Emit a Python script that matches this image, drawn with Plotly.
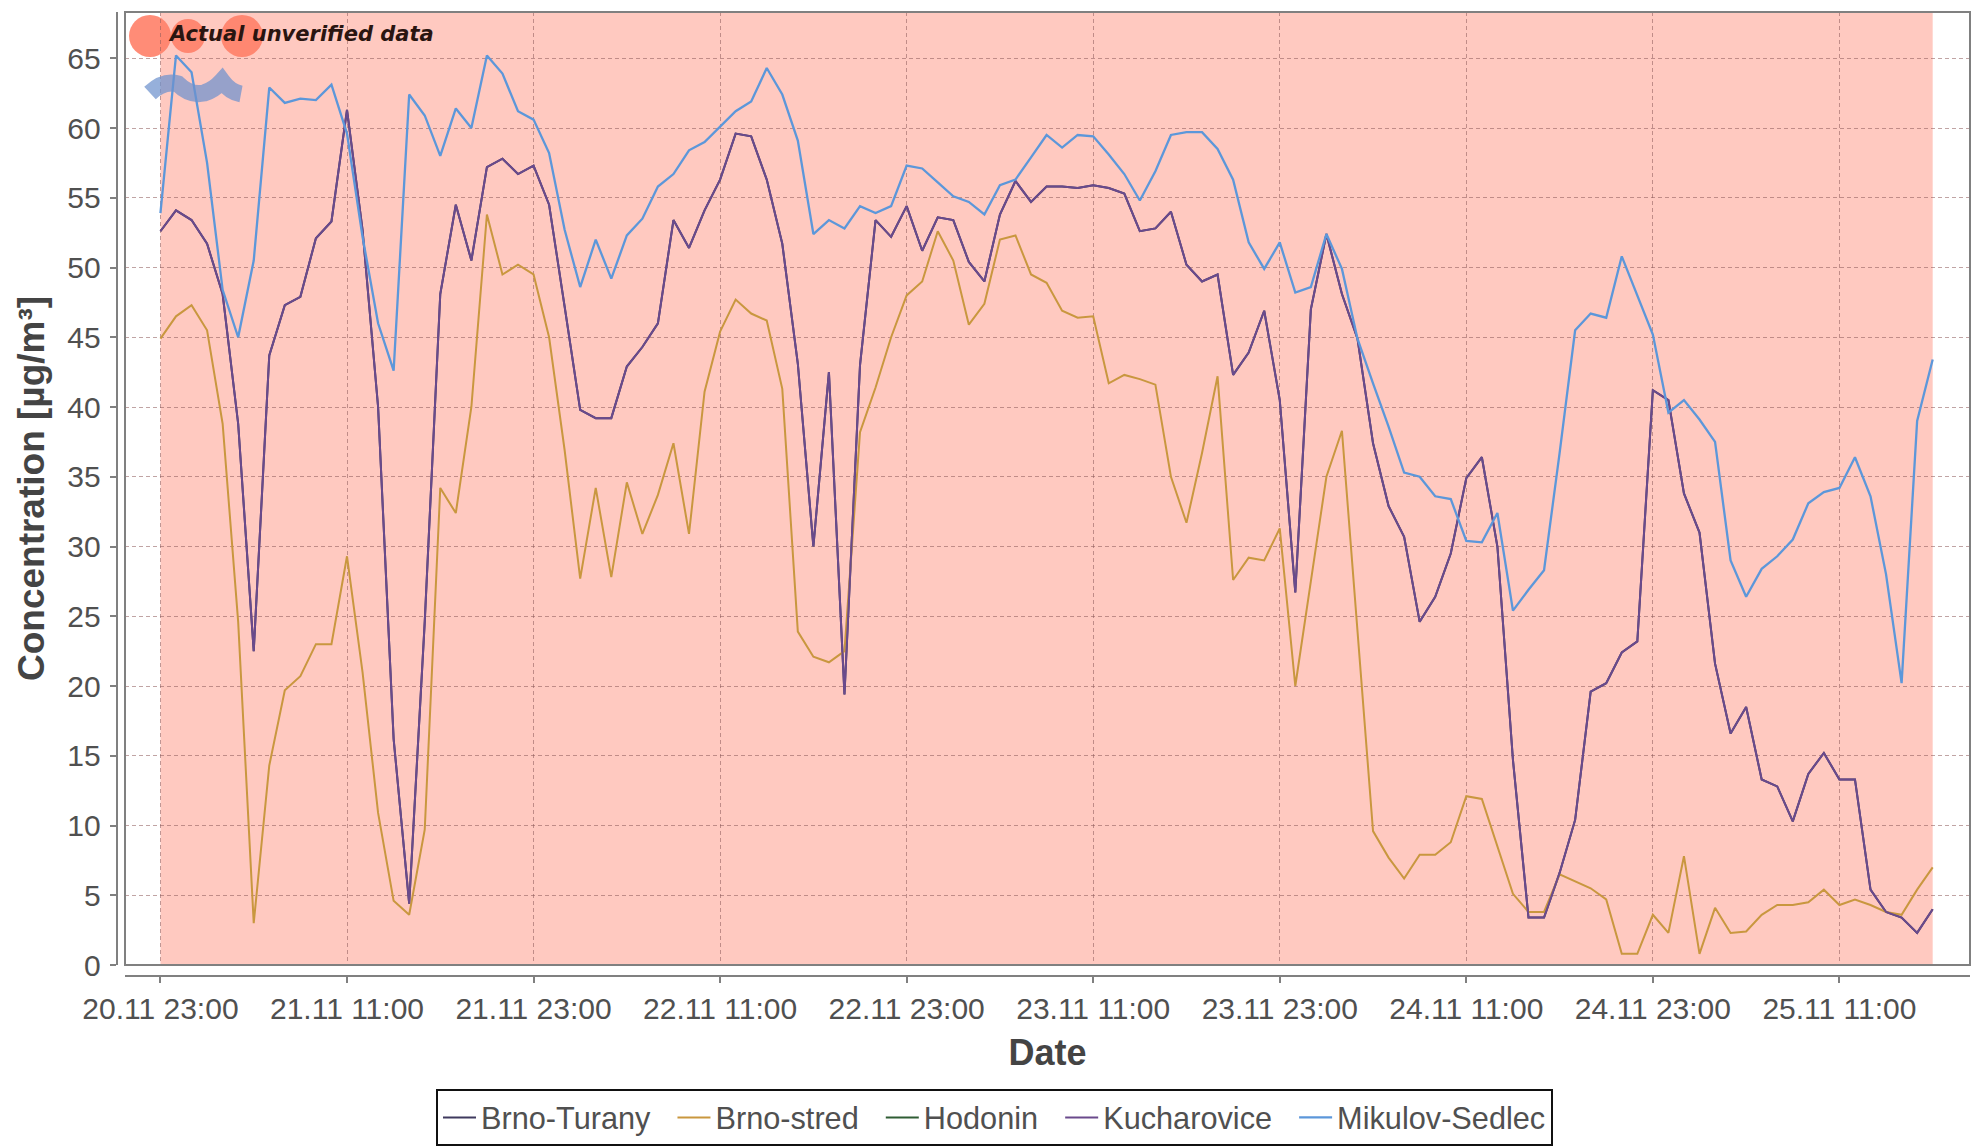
import pandas as pd
import plotly.graph_objects as go

W, H = 1981, 1147

times = pd.date_range("2011-11-20 23:00", periods=115, freq="h")

brno_turany = [52.6,54.1,53.4,51.7,48.1,38.8,22.5,43.7,47.3,47.9,52.1,53.3,61.3,52.7,40.0,16.2,4.4,24.6,48.1,54.5,
               50.5,57.2,57.8,56.7,57.3,54.5,47.2,39.8,39.2,39.2,42.9,44.3,46.0,53.4,51.4,54.1,56.3,59.6,59.4,56.3,
               51.7,43.1,30.0,42.5,19.4,43.0,53.4,52.2,54.4,51.2,53.6,53.4,50.4,49.0,53.8,56.2,54.7,55.8,55.8,55.7,
               55.9,55.7,55.3,52.6,52.8,54.0,50.2,49.0,49.5,42.3,43.9,46.9,40.5,26.7,47.0,52.4,48.1,44.9,37.4,32.9,
               30.7,24.6,26.4,29.5,34.9,36.4,30.0,14.7,3.4,3.4,6.6,10.4,19.6,20.2,22.4,23.2,41.2,40.5,33.8,31.0,
               21.6,16.6,18.5,13.3,12.8,10.3,13.7,15.2,13.3,13.3,5.4,3.8,3.4,2.3,4.0]
brno_stred = [44.9,46.5,47.3,45.5,38.8,24.6,3.0,14.3,19.7,20.7,23.0,23.0,29.3,21.0,10.9,4.6,3.6,9.7,34.2,32.4,
              40.0,53.8,49.5,50.2,49.5,45.0,36.9,27.7,34.2,27.8,34.6,30.9,33.7,37.4,30.9,41.1,45.4,47.7,46.7,46.2,
              41.3,23.9,22.1,21.7,22.5,38.2,41.4,45.0,48.0,49.0,52.6,50.5,45.9,47.4,52.0,52.3,49.5,48.9,46.9,46.4,
              46.5,41.7,42.3,42.0,41.6,35.0,31.7,36.7,42.2,27.6,29.2,29.0,31.3,20.0,27.5,35.0,38.3,24.0,9.6,7.7,
              6.2,7.9,7.9,8.8,12.1,11.9,8.5,5.1,3.8,3.8,6.5,6.0,5.5,4.7,0.8,0.8,3.6,2.3,7.8,0.8,
              4.1,2.3,2.4,3.6,4.3,4.3,4.5,5.4,4.3,4.7,4.3,3.8,3.6,5.4,7.0]
kucharovice = list(brno_turany)
mikulov = [53.9,65.2,64.0,57.5,48.4,45.0,50.5,62.9,61.8,62.1,62.0,63.1,59.6,52.2,46.0,42.6,62.4,60.9,58.0,61.4,
           60.0,65.2,63.9,61.2,60.6,58.2,52.7,48.6,52.0,49.2,52.3,53.5,55.8,56.7,58.4,59.0,60.1,61.2,61.9,64.3,
           62.4,59.1,52.4,53.4,52.8,54.4,53.9,54.4,57.3,57.1,56.1,55.1,54.7,53.8,55.9,56.3,57.9,59.5,58.6,59.5,
           59.4,58.1,56.7,54.8,56.9,59.5,59.7,59.7,58.5,56.3,51.8,49.9,51.8,48.2,48.6,52.4,49.9,44.9,41.7,38.6,
           35.3,35.0,33.6,33.4,30.4,30.3,32.4,25.4,26.9,28.3,36.7,45.5,46.7,46.4,50.8,48.0,45.2,39.6,40.5,39.1,
           37.5,29.0,26.4,28.4,29.3,30.5,33.1,33.9,34.2,36.4,33.6,28.0,20.2,39.0,43.4]

Y_TITLE = "Concentration [µg/m³]"
X_TITLE = "Date"
NOTE = "Actual unverified data"
TICK_COLOR = "#505050"
FONT = "Liberation Sans"
GAP = "\u00a0\u00a0"

def fx(p): return p / W
def fy(p): return 1 - p / H

fig = go.Figure()
series = [
    ("Brno-Turany" + GAP, brno_turany, "#3f3a5e", 2),
    ("Brno-stred" + GAP, brno_stred, "#c9973f", 2),
    ("Hodonin" + GAP, [None] * len(times), "#2f5d34", 2),
    ("Kucharovice" + GAP, kucharovice, "#6a4a8c", 2),
    ("Mikulov-Sedlec", mikulov, "#5c97da", 2.3),
]
for name, vals, col, lw in series:
    fig.add_trace(go.Scatter(x=times, y=vals, name=name, mode="lines",
                             connectgaps=False, line=dict(color=col, width=lw)))

# shaded "unverified" band spans the whole data range
fig.add_vrect(x0=times[0], x1=times[-1], fillcolor="#ffc9c0", line_width=0, layer="below")

# plot frame
TOP, BOTTOM = 12, 965
fig.add_shape(type="rect", xref="paper", yref="paper", x0=fx(125), x1=fx(1970), y0=fy(BOTTOM), y1=fy(TOP),
              line=dict(color="#808080", width=2), layer="above")

# logo decoration behind the note
for cx, r in [(150, 21), (188, 17), (242, 21)]:
    fig.add_shape(type="circle", xref="paper", yref="paper", x0=fx(cx - r), x1=fx(cx + r),
                  y0=fy(36 + r), y1=fy(36 - r), fillcolor="#ff7f68", opacity=0.9, line_width=0, layer="between")
def P(a, b): return f"{fx(a)} {fy(b)}"
path = ("M " + P(150, 93) + " Q " + P(164, 80) + " " + P(178, 84) + " Q " + P(190, 96) + " " + P(204, 93)
        + " Q " + P(214, 90) + " " + P(222, 81) + " Q " + P(230, 92) + " " + P(241, 94))
fig.add_shape(type="path", xref="paper", yref="paper", path=path,
              line=dict(color="rgba(110,145,205,0.72)", width=17), layer="above")

fig.add_annotation(xref="paper", yref="paper", x=fx(166), y=fy(34), xanchor="left", yanchor="middle", showarrow=False,
                   text=f"<b><i>{NOTE}</i></b>", font=dict(family="DejaVu Sans", size=21, color="#2a1510"))

hour = pd.Timedelta(hours=1)
GRID = "rgba(140,90,90,0.55)"
fig.update_layout(
    width=W, height=H, margin=dict(l=0, r=0, t=0, b=0), autosize=False,
    paper_bgcolor="white", plot_bgcolor="white",
    font=dict(family=FONT, color=TICK_COLOR),
    showlegend=True,
    legend=dict(orientation="h", x=fx(436), y=fy(1146), xanchor="left", yanchor="bottom",
                bordercolor="#111111", borderwidth=2, bgcolor="white",
                font=dict(size=30.7, color="#505050"), itemwidth=33, tracegroupgap=0),
    xaxis=dict(
        domain=[fx(125), fx(1970)], anchor="free", position=fy(976),
        range=[times[0] - 2.28 * hour, times[0] + 116.4 * hour],
        tick0=times[0], dtick=12 * 3600 * 1000, tickformat="%d.%m %H:%M",
        ticks="outside", ticklen=6, tickwidth=1.5, tickcolor="#808080",
        showline=True, linecolor="#808080", linewidth=2,
        showgrid=True, gridcolor=GRID, griddash="4px,3px", gridwidth=1,
        tickfont=dict(size=30, color=TICK_COLOR), zeroline=False,
        title=dict(text=f"<b>{X_TITLE}</b>", font=dict(size=36, color="#444444"), standoff=15),
        automargin=False,
    ),
    yaxis=dict(
        domain=[fy(BOTTOM), fy(TOP)], anchor="free", position=fx(116.7),
        range=[0, (BOTTOM - TOP) / 13.95], tick0=0, dtick=5,
        ticks="outside", ticklen=6, tickwidth=1.5, tickcolor="#808080",
        showline=True, linecolor="#808080", linewidth=2,
        showgrid=True, gridcolor=GRID, griddash="4px,3px", gridwidth=1,
        tickfont=dict(size=30, color=TICK_COLOR), zeroline=False, ticklabelstandoff=3,
        title=dict(text=f"<b>{Y_TITLE}</b>", font=dict(size=37, color="#444444"), standoff=10),
        automargin=False,
    ),
)
fig.write_html("out.html", config=dict(displayModeBar=False), post_script="document.body.style.margin='0';")
